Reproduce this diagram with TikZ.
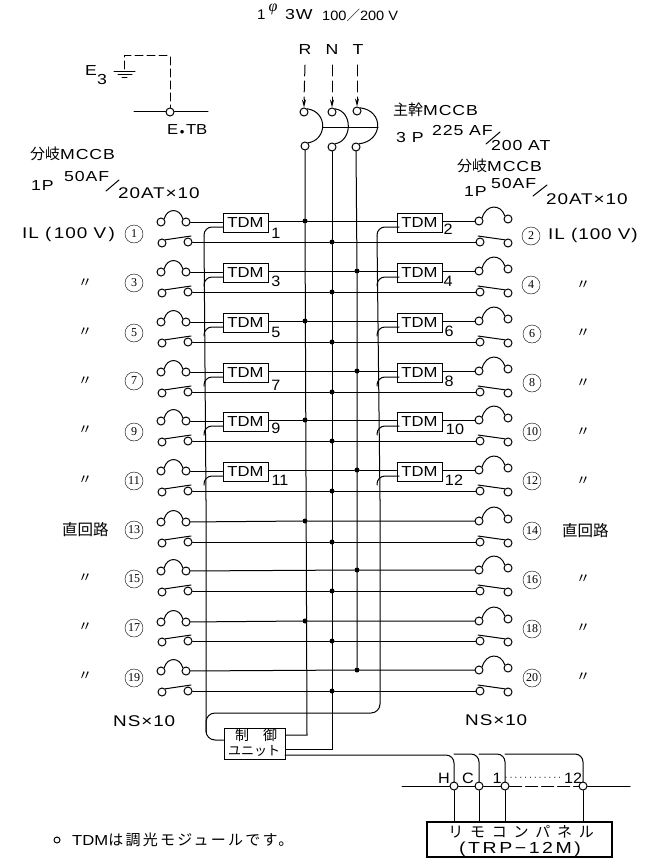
\documentclass[tikz,border=0pt]{standalone}
\usepackage{fontspec}
\usetikzlibrary{arrows.meta}
\setmainfont{Liberation Sans}[FakeStretch=1.22,LetterSpace=6]
\newfontfamily\jp{Noto Sans CJK JP}
\newfontfamily\jpn[LetterSpace=15]{Noto Sans CJK JP}
\newfontfamily\jpw[LetterSpace=45]{Noto Sans CJK JP}
\newfontfamily\serifn{Liberation Serif}
\newfontfamily\wider[FakeStretch=1.22,LetterSpace=16]{Liberation Sans}
\newfontfamily\tight[FakeStretch=1.08]{Liberation Sans}
\newfontfamily\tenf[FakeStretch=1.15]{Liberation Sans}
\newcommand{\fs}[1]{\fontsize{#1}{#1}\selectfont}
\tikzset{
 wire/.style={line width=1pt,line cap=round},
 dash wire/.style={wire,dash pattern=on 11pt off 5pt},
 term/.style={circle,draw,line width=1pt,inner sep=0pt,minimum size=8pt},
 jdot/.style={circle,fill=black,inner sep=0pt,minimum size=5pt},
 lab/.style={inner sep=0pt,anchor=west,font=\fs{15.5}},
 slab/.style={inner sep=0pt,anchor=west,font=\fs{14.5}},
 tlab/.style={inner sep=0pt,font=\fs{14.5}},
 tdmbox/.style={draw,line width=1pt,inner sep=0pt,minimum width=45pt,minimum height=19pt,font=\tenf\fs{14.5}},
 circnum/.style={circle,draw,line width=0.4pt,inner sep=0pt,minimum size=18pt,font=\serifn\fs{12}},
 ditto/.style={inner sep=0pt,font=\jp\fs{14}},
}
\begin{document}
\begin{tikzpicture}[x=1pt,y=-1pt]
\useasboundingbox (0,0) rectangle (658,861);
% header
\node[lab,font=\tight\fs{14}] (hdA) at (257,15) {1};
\node[inner sep=0pt,font=\serifn\itshape\fs{16}] (hdB) at (273,9) {φ};
\node[slab] (hdC) at (285,15) {3W};
\node[lab,font=\tight\fs{13.5}] (hdD) at (322,15) {100{\jp ／}200 V};
% main breaker
\node[tlab] (labR) at (305,50) {R};
\node[tlab] (labN) at (332,50) {N};
\node[tlab] (labT) at (358,50) {T};
\coordinate (inR) at (305,65);
\coordinate (inN) at (332,65);
\coordinate (inT) at (357,65);
\node[term] (MaR) at (304,112) {};
\node[term] (MaN) at (332,112) {};
\node[term] (MaT) at (357,111) {};
\node[term] (MbR) at (305,146) {};
\node[term] (MbN) at (332,147) {};
\node[term] (MbT) at (356,147) {};
\foreach \pp in {R,N,T}{
 \draw[dash wire] (in\pp) -- ([yshift=8pt]Ma\pp.north);
 \draw[wire,-{Stealth[length=8pt,width=4pt]}] ([yshift=8pt]Ma\pp.north) -- (Ma\pp.north);
}
\draw[wire] (MaR.north east) .. controls +(21,3) and +(19,-3) .. (MbR.north east);
\draw[wire] (MaN.north east) .. controls +(18,3) and +(17,-3) .. (MbN.north east);
\draw[wire] (MaT.north east) .. controls +(24,3) and +(24,-3) .. (MbT.north east);
\coordinate (tieA) at (323,128);
\coordinate (tieB) at (378,128);
\draw[wire] (tieA) -- (tieB);
% earth
\node[slab] (eE) at (85,71) {E};
\node[slab] (eN) at (97,80) {3};
\coordinate (gnd) at (124,69);
\draw[wire] (114,72) -- (135,72) (118,75) -- (132,75) (122,78) -- (127,78);
\node[term] (etb) at (170,112) {};
\coordinate (etbL) at (134,112);
\coordinate (etbR) at (208,112);
\draw[wire] (etbL) -- (etb) -- (etbR);
\draw[dash wire,dash pattern=on 8pt off 4pt] (gnd) -- (124,56) -- (170,56) -- (etb);
\node[lab,font=\tenf\fs{14.5}] (etbT) at (167,130) {E{\fs{9}$\,\bullet\,$}TB};
% texts upper
\node[slab] (aA) at (30,154) {{\jp\fs{15}分岐}MCCB};
\node[slab] (aB) at (31,186) {1P};
\node[slab] (aC) at (64,177) {50AF};
\node[lab] (aD) at (118,193) {20AT×10};
\draw[wire] (106,191) -- (119,180);
\node[lab] (aE) at (22,234) {IL (\,100 V\,)};
\node[slab] (bA) at (393,110) {{\jp\fs{15}主幹}MCCB};
\node[slab] (bB) at (396,138) {3 P};
\node[slab] (bC) at (432,131) {225 AF};
\node[slab] (bD) at (491,146) {200 AT};
\draw[wire] (486,144) -- (500,132);
\node[slab] (cA) at (457,166) {{\jp\fs{15}分岐}MCCB};
\node[slab] (cB) at (464,192) {1P};
\node[slab] (cC) at (491,184) {50AF};
\node[lab] (cD) at (546,199) {20AT×10};
\draw[wire] (533,196) -- (547,185);
\node[lab] (cE) at (548,235) {IL (100 V)};
\node[lab,font=\jp\fs{15.5}] (dA) at (62,530) {直回路};
\node[lab,font=\jp\fs{15.5}] (dB) at (562,531) {直回路};
\node[lab] (nsA) at (113,721) {NS×10};
\node[lab] (nsB) at (465,720) {NS×10};
\draw[line width=1pt] (57,840) circle (3);
\node[lab,font=\tenf\fs{14.5}] (note) at (72,840) {TDM{\jpn\fs{15}は調光モジュールです。}};
% circuits
\foreach \nn/\mm/\yu/\yl/\bx in {1/2/221/242/305,3/4/271/292/357,5/6/321/342/305,7/8/371/392/357,9/10/420/441/305,11/12/470/491/357,13/14/521/542/305,15/16/570/591/357,17/18/621/641/305,19/20/670/691/357}{
 \node[term] (LA\nn) at (161,\yu+1) {};
 \node[term] (LB\nn) at (186,\yu+1) {};
 \node[term] (LC\nn) at (162,\yl+1) {};
 \node[term] (LD\nn) at (188,\yl) {};
 \node[term] (RA\mm) at (479,\yu) {};
 \node[term] (RB\mm) at (508,\yu-2) {};
 \node[term] (RC\mm) at (480,\yl) {};
 \node[term] (RD\mm) at (508,\yl+1) {};
 \draw[wire] (LA\nn.north east) .. controls +(3,-11) and +(-3,-11) .. (LB\nn.north west);
 \draw[wire] (RA\mm.north east) .. controls +(4,-14) and +(-4,-12) .. (RB\mm.north west);
 \draw[wire] (LC\nn.north east) -- ([shift={(3,-6)}]LD\nn.center);
 \draw[wire] ([shift={(-2,-6)}]RC\mm.center) -- (RD\mm.north west);
 \node[jdot] (U\nn) at (\bx,\yu) {};
 \node[jdot] (V\nn) at (332,\yl) {};
 \draw[wire] (LD\nn) -- (V\nn) -- (RC\mm);
 \ifnum\nn<13
  \node[tdmbox] (TL\nn) at (245.5,\yu+2) {TDM};
  \node[tdmbox] (TR\mm) at (419.5,\yu+2) {TDM};
  \coordinate (CL\nn) at (223,\yu+6);
  \coordinate (CR\mm) at (399,\yu+6);
  \coordinate (BL\nn) at (204,\yu+15);
  \coordinate (BR\mm) at (377,\yu+15);
  \draw[wire] (LB\nn) -- (LB\nn -| TL\nn.west);
  \draw[wire] (TL\nn.east |- U\nn) -- (U\nn) -- (U\nn -| TR\mm.west);
  \draw[wire] (TR\mm.east |- RA\mm) -- (RA\mm);
  \draw[wire,rounded corners=8pt] (CL\nn) -| (BL\nn);
  \draw[wire,rounded corners=8pt] (CR\mm) -| (BR\mm);
 \else
  \draw[wire] (LB\nn) -- (U\nn) -- (RA\mm);
 \fi
}
% TDM numbers
\foreach \tx/\ty/\tv in {276/233/1,276/281/3,276/332/5,276/385/7,276/428/9,280/480/11,448/229/2,448/281/4,449/331/6,449/381/8,455/429/10,454/480/12}{
 \node[tlab,font=\tight\fs{15}] (tn\tv) at (\tx,\ty) {\tv};
}
% circled numbers
\foreach \cx/\cy/\cv in {134/234/1,134/283/3,134/333/5,134/381/7,134/432/9,134/481/11,134/530/13,134/579/15,134/628/17,134/678/19,531/236/2,531/285/4,532/334/6,532/383/8,532/432/10,532/481/12,532/531/14,532/580/16,532/629/18,532/678/20}{
 \node[circnum] (cn\cv) at (\cx,\cy) {\cv};
}
% ditto marks
\foreach \dx/\dy/\dv in {85/283/a,85/332/b,85/381/c,85/430/d,85/480/e,85/578/f,85/627/g,85/676/h,583/285/i,583/333/j,583/383/k,583/432/l,583/481/m,583/579/n,583/628/o,583/677/p}{
 \node[ditto] (di\dv) at (\dx,\dy) {〃};
}
% buses
\coordinate (busLb) at (206,740);
\coordinate (busRb) at (380,713);
\coordinate (loopL) at (206,713);
\node[draw,line width=1pt,inner sep=0pt,minimum width=61pt,minimum height=31pt] (CU) at (254.5,743.5) {};
\node[inner sep=0pt,font=\jp\fs{14}] (cuA) at (242,735) {制};
\node[inner sep=0pt,font=\jp\fs{14}] (cuB) at (270,735) {御};
\node[inner sep=0pt,font=\jp\fs{13}] (cuC) at (254,751) {ユニット};
\draw[wire] (BL1) -- (206,500);
\draw[wire,rounded corners=9pt] (206,500) -- (busLb) -- (CU.west |- busLb);
\draw[wire] (BR2) -- (380,500);
\draw[wire,rounded corners=9pt] (380,500) -- (busRb) -- (loopL) -- (206,732);
\coordinate (endR) at (307,735);
\coordinate (endN) at (332,749);
\draw[wire] (MbR) -- (U1) -- (endR) -- (endR -| CU.east);
\draw[wire] (MbN) -- (V1) -- (endN) -- (endN -| CU.east);
\draw[wire] (MbT) -- (U3) -- (U19);
% remote panel
\node[draw,line width=1.3pt,inner sep=0pt,minimum width=185pt,minimum height=35pt] (PN) at (519.5,839.5) {};
\node[inner sep=0pt,font=\jpw\fs{15}] (pnA) at (521,832) {リモコンパネル};
\node[inner sep=0pt,font=\wider\fs{16}] (pnB) at (520,849) {(TRP−12M)};
\node[term] (tH) at (454,786) {};
\node[term] (tC) at (479,786) {};
\node[term] (t1) at (505,786) {};
\node[term] (t12) at (583,786) {};
\coordinate (ctlE) at (285,755);
\coordinate (lnA) at (402,786);
\coordinate (lnB) at (630,786);
\draw[wire,rounded corners=8pt] (ctlE) -- (454,755) -- (tH);
\draw[wire,rounded corners=8pt] (454,754) -- (479,754) -- (tC);
\draw[wire,rounded corners=8pt] (479,754) -- (505,754) -- (t1);
\draw[wire,rounded corners=8pt] (505,754) -- (583,754) -- (t12);
\foreach \tn in {H,C,1,12}{\draw[wire] (t\tn) -- (t\tn |- PN.north);}
\draw[wire] (lnA) -- (tH) (tH) -- (tC) (tC) -- (t1);
\draw[wire,dash pattern=on 12pt off 4pt] (t1) -- (t12);
\draw[wire] (t12) -- (lnB);
\node[tlab,font=\tight\fs{15}] (labH) at (444,778) {H};
\node[tlab,font=\tight\fs{15}] (labC) at (468,778) {C};
\node[tlab,font=\tight\fs{15}] (lab1) at (497,778) {1};
\node[tlab,font=\fs{11}] (labD) at (533,778) {$\cdots\cdots\cdots\cdots$};
\node[tlab,font=\tight\fs{15}] (lab12) at (573,778) {12};
\end{tikzpicture}
\end{document}
